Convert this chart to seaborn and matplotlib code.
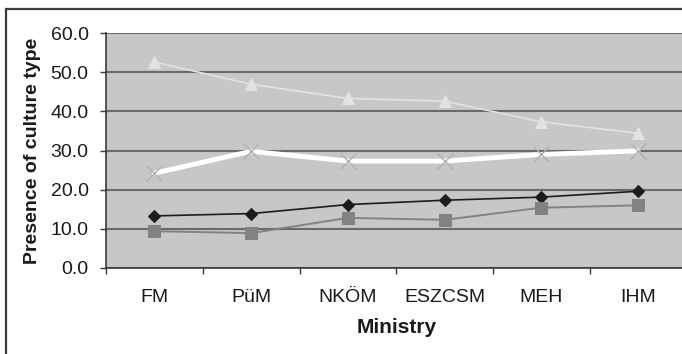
import matplotlib
matplotlib.use("Agg")
import matplotlib.pyplot as plt
from matplotlib.patches import Rectangle
from matplotlib.ticker import FixedLocator, FormatStrFormatter
import seaborn as sns
import pandas as pd

# Ministries on the x axis
ministries = ["FM", "PüM", "NKÖM", "ESZCSM", "MEH", "IHM"]

# Presence of each culture type per ministry (%)
series_triangle = [52.6, 46.9, 43.3, 42.6, 37.3, 34.4]
series_cross = [24.2, 29.8, 27.3, 27.3, 29.0, 29.9]
series_diamond = [13.3, 13.9, 16.2, 17.3, 18.1, 19.6]
series_square = [9.4, 8.9, 12.8, 12.3, 15.4, 16.0]

y_ticks = [0, 10, 20, 30, 40, 50, 60]

sns.set_theme(style="white")
plt.rcParams["font.family"] = ["Liberation Sans", "DejaVu Sans"]

fig = plt.figure(figsize=(6.82, 3.54), dpi=100)
W, H = 682, 354

# outer chart frame (runs off the right and bottom of the image)
fig.patches.append(Rectangle((5.5 / W, -0.1), 1.2, 1 - 8.5 / H + 0.1,
                             transform=fig.transFigure, fill=False,
                             edgecolor="#3c3c3c", linewidth=1.6, zorder=0))

left, right, top, bottom = 106, 686.5, 33, 268
ax = fig.add_axes([left / W, 1 - bottom / H, (right - left) / W, (bottom - top) / H])
ax.set_facecolor("#c6c7c9")

df = pd.DataFrame({"Ministry": ministries,
                   "tri": series_triangle, "cross": series_cross,
                   "dia": series_diamond, "sq": series_square})

sns.lineplot(data=df, x="Ministry", y="tri", ax=ax, color="#e2e2e2", linewidth=1.2,
             marker="^", markersize=8.5, markeredgecolor="#e2e2e2", zorder=3)
sns.lineplot(data=df, x="Ministry", y="cross", ax=ax, color="white", linewidth=3.5,
             marker="x", markersize=11, markeredgecolor="#b0b0b0", markeredgewidth=1.0,
             zorder=4)
sns.lineplot(data=df, x="Ministry", y="dia", ax=ax, color="#1c1c1c", linewidth=1.2,
             marker="D", markersize=6, markeredgecolor="#1c1c1c", zorder=5)
sns.lineplot(data=df, x="Ministry", y="sq", ax=ax, color="#828282", linewidth=1.4,
             marker="s", markersize=8, markeredgecolor="#828282", zorder=5)

ax.set_xlim(-0.5, len(ministries) - 0.5)
ax.set_ylim(0, 60)
ax.set_yticks(y_ticks)
ax.yaxis.set_major_formatter(FormatStrFormatter("%.1f"))
ax.yaxis.grid(True, color="#6a6a6a", linewidth=1.5)
ax.set_axisbelow(True)

ax.set_xticks(range(len(ministries)))
ax.set_xticklabels(ministries)
ax.xaxis.set_minor_locator(FixedLocator([i - 0.5 for i in range(len(ministries) + 1)]))

for s in ["top", "right"]:
    ax.spines[s].set_visible(False)
for s in ["left", "bottom"]:
    ax.spines[s].set_color("#3a3a3a")
    ax.spines[s].set_linewidth(1.2)

ax.tick_params(axis="y", which="major", left=True, length=4.5, width=1.0, color="#3a3a3a",
               pad=8, labelsize=14, labelcolor="#1a1a1a")
ax.tick_params(axis="x", which="major", bottom=False, length=0, pad=15,
               labelsize=14, labelcolor="#1a1a1a")
ax.tick_params(axis="x", which="minor", bottom=True, length=4.5, width=1.0, color="#3a3a3a")

ax.set_xlabel("Ministry", fontsize=15, fontweight="bold", color="#1a1a1a", labelpad=9)
ax.set_ylabel("Presence of culture type", fontsize=14, fontweight="bold",
              color="#1a1a1a", labelpad=7)

fig.savefig("out.png", dpi=100)
